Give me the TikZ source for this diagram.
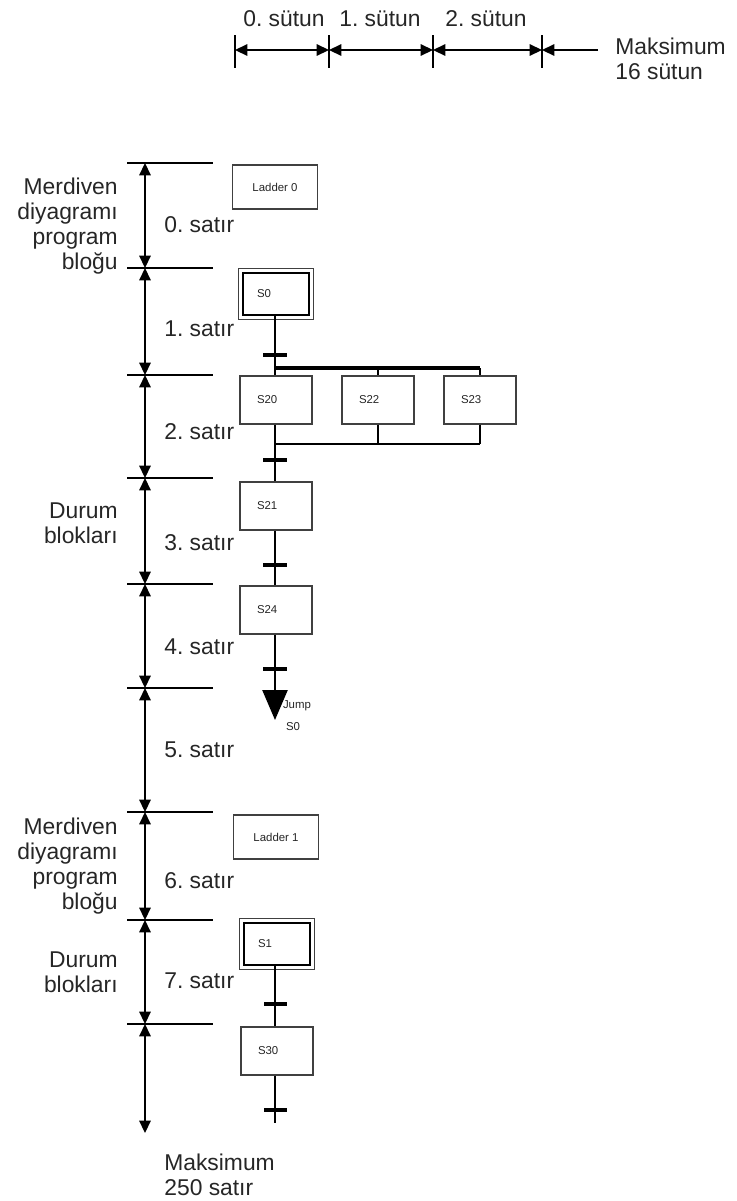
\documentclass[tikz,border=0pt]{standalone}
\usepackage{fontspec}
\setmainfont{Liberation Sans}
\usetikzlibrary{arrows.meta, positioning}
\colorlet{txtcol}{black!85}
\colorlet{boxcol}{black!75}
\def\chainx{275}
\frenchspacing

\tikzset{
  lbl/.style={font=\fontsize{13}{14.2}\selectfont, text=txtcol, inner sep=0pt},
  boxtxt/.style={font=\fontsize{6.5}{7.5}\selectfont, text=txtcol},
  dimarrow/.style={line width=0.9pt, {Triangle[length=7pt,width=6.5pt]}-{Triangle[length=7pt,width=6.5pt]}},
  rowline/.style={line width=0.8pt},
  stepbox/.style={boxtxt, draw=boxcol, line width=0.7pt, minimum width=1.44cm, minimum height=0.96cm,
    text width=0.76cm, inner xsep=0.34cm, align=left},
  initstep/.style={boxtxt, draw=black, line width=1.4pt, minimum width=1.32cm, minimum height=0.84cm,
    text width=0.76cm, inner xsep=0.28cm, align=left},
  ladderbox/.style={boxtxt, draw=boxcol, line width=0.7pt, minimum width=1.7cm, minimum height=0.88cm},
  chain/.style={line width=1.4pt},
  transbar/.style={line width=1.8pt}
}

\begin{document}
\begin{tikzpicture}[x=0.02cm, y=-0.02cm]
  \useasboundingbox (0,0) rectangle (737,1201);

  % column ruler
  \foreach \xx [count=\i from 0] in {235,329,433,542}
    \coordinate (c\i) at (\xx,50);
  \coordinate (cend) at (598,50);
  \foreach \i in {0,...,3}
    \draw[line width=0.9pt] (c\i) ++(0,-15) -- ++(0,33);
  \foreach \i [evaluate=\i as \j using int(\i+1)] in {0,1,2}
    \draw[dimarrow] (c\i) -- (c\j);
  \draw[line width=0.9pt, -{Triangle[length=7pt,width=6.5pt]}] (cend) -- (c3);

  \node[lbl] (col0) at (284,19) {0. sütun};
  \node[lbl] (col1) at (380,19) {1. sütun};
  \node[lbl] (col2) at (486,19) {2. sütun};
  \node[lbl, anchor=west, align=left] (colmax) at (615,59) {Maksimum\\16 sütun};

  % row ruler
  \foreach \yy [count=\i from 0] in {163,268,375,478,584,688,812,920,1024}
    \coordinate (r\i) at (145,\yy);
  \coordinate (rend) at (145,1133);
  \foreach \i in {0,...,8}
    \draw[rowline] (r\i) ++(-18,0) -- ++(86,0);
  \foreach \i [evaluate=\i as \j using int(\i+1)] in {0,...,7}
    \draw[dimarrow] (r\i) -- (r\j);
  \draw[dimarrow] (r8) -- (rend);

  \foreach \yy [count=\i from 0] in {225,329,432,543,647,750,881,981}
    \node[lbl, anchor=west] (row\i) at (164,\yy) {\i. satır};
  \node[lbl, anchor=west, align=left] (rowmax) at (164,1175) {Maksimum\\250 satır};

  \node[lbl, anchor=east, align=right] (ladtxt0) at (118,226) {Merdiven\\diyagramı\\program\\bloğu};
  \node[lbl, anchor=east, align=right] (sttxt0) at (118,523) {Durum\\blokları};
  \node[lbl, anchor=east, align=right] (ladtxt1) at (118,866) {Merdiven\\diyagramı\\program\\bloğu};
  \node[lbl, anchor=east, align=right] (sttxt1) at (118,972) {Durum\\blokları};

  % first ladder block and state blocks
  \node[ladderbox] (lad0) at (275,187) {Ladder 0};
  \node[initstep] (s0) at (276,294) {S0};
  \draw[line width=0.5pt, boxcol] ([shift={(-3,3)}]s0.south west) rectangle ([shift={(3,-3)}]s0.north east);

  \node[stepbox] (s20) at (276,400) {S20};
  \node[stepbox] (s22) at (378,400) {S22};
  \node[stepbox] (s23) at (480,400) {S23};
  \node[stepbox] (s21) at (276,506) {S21};
  \node[stepbox] (s24) at (276,610) {S24};

  \coordinate (split) at (\chainx,368);
  \coordinate (join) at (\chainx,444);
  \coordinate (jmp) at (\chainx,720);

  \draw[chain] (s0.south -| split) -- (split);
  \draw[line width=2pt] (split) -- (s23.north |- split);
  \draw[line width=1pt] (split) -- (s20.north -| split);
  \draw[line width=1pt] (s22.north |- split) -- (s22.north);
  \draw[line width=1pt] (s23.north |- split) -- (s23.north);
  \draw[line width=1pt] (s22.south) -- (s22.south |- join);
  \draw[line width=1pt] (s23.south) -- (s23.south |- join);
  \draw[line width=1.2pt] (s20.south -| join) -- (join) -- (s23.south |- join);
  \draw[chain] (join) -- (s21.north -| join);
  \draw[chain] (s21.south -| join) -- (s24.north -| join);
  \draw[chain, -{Triangle[length=0.6cm,width=0.5cm]}] (s24.south -| jmp) -- (jmp);
  \node[boxtxt, inner sep=0pt] (jumptxt) at (297,706) {Jump};
  \node[boxtxt, inner sep=0pt] (jumptgt) at (293,727) {S0};

  \foreach \yy in {355,460,565,669}
    \draw[transbar] (263,\yy) -- (287,\yy);

  % second ladder block and state blocks
  \node[ladderbox] (lad1) at (276,837) {Ladder 1};
  \node[initstep] (s1) at (277,944) {S1};
  \draw[line width=0.5pt, boxcol] ([shift={(-3,3)}]s1.south west) rectangle ([shift={(3,-3)}]s1.north east);
  \node[stepbox] (s30) at (277,1051) {S30};
  \coordinate (chainend) at (\chainx,1123);

  \draw[chain] (s1.south -| chainend) -- (s30.north -| chainend);
  \draw[chain] (s30.south -| chainend) -- (chainend);
  \foreach \yy in {1004,1110}
    \draw[transbar] (264,\yy) -- (287,\yy);
\end{tikzpicture}
\end{document}
